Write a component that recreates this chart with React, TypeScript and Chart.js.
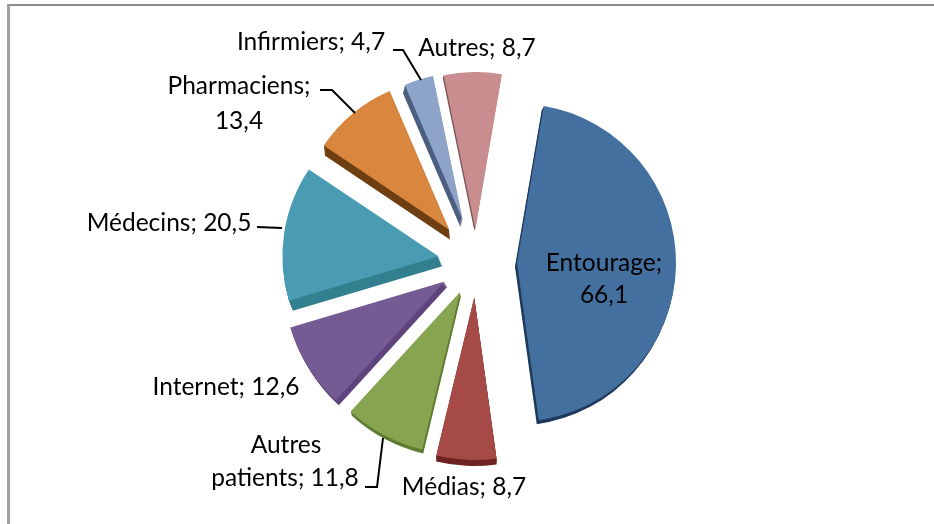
import React, { useEffect, useRef } from "react";
import { Chart, registerables } from "chart.js";

Chart.register(...registerables);

const categories = ["Entourage", "Médias", "Autres patients", "Internet", "Médecins", "Pharmaciens", "Infirmiers", "Autres"];
const values = [66.1, 8.7, 11.8, 12.6, 20.5, 13.4, 4.7, 8.7];
const topColors = ["#44709f", "#a54a47", "#87a550", "#755b94", "#4a9cb5", "#d9863e", "#8ea3c8", "#c98d8f"];
const sideColors = ["#1f3a5c", "#6e2422", "#5f7c33", "#5e437c", "#33808f", "#6e3f12", "#4d5f80", "#7d5557"];
const explode = [41, 35, 34, 37, 38, 42, 44, 33];
const radii = [159, 163, 162, 161, 156, 151, 147, 157];
const depthX = [-2, 0, 1, 3, 4, 1, -2, -1];
const depthY = [4, 6, 4, 5, 10, 10, 8, 2];

const FONT = "24.5px Lato";
const CX = 476;
const CY = 262;

type Lbl = { text: string; x: number; y: number; align: CanvasTextAlign };
const labelLayout: Lbl[] = [
  { text: "Entourage;", x: 604, y: 271, align: "center" },
  { text: "66,1", x: 604, y: 303, align: "center" },
  { text: "Médias; 8,7", x: 464, y: 495, align: "center" },
  { text: "Autres", x: 286, y: 453, align: "center" },
  { text: "patients; 11,8", x: 285, y: 486, align: "center" },
  { text: "Internet; 12,6", x: 226, y: 395, align: "center" },
  { text: "Médecins; 20,5", x: 169, y: 231, align: "center" },
  { text: "Pharmaciens;", x: 239, y: 94, align: "center" },
  { text: "13,4", x: 239, y: 129, align: "center" },
  { text: "Infirmiers; 4,7", x: 311, y: 50, align: "center" },
  { text: "Autres; 8,7", x: 477, y: 56, align: "center" },
];
const leaders: number[][][] = [
  [[393, 50], [403, 50], [421, 80]],
  [[320, 90], [332, 90], [355, 113]],
  [[257, 227], [282, 228]],
  [[365, 487], [377, 487], [383, 438]],
];

const arcOptions = (color: string) => ({
  backgroundColor: color, borderColor: color, borderWidth: 0, borderAlign: "center", borderDash: [], borderDashOffset: 0,
  borderJoinStyle: "round", borderRadius: 0, circular: true, offset: 0, spacing: 0, angle: undefined,
});

const pie3d = {
  id: "pie3d",
  afterDatasetsUpdate(chart: any) {
    const arcs = chart.getDatasetMeta(0).data;
    arcs.forEach((arc: any, i: number) => {
      const mid = (arc.startAngle + arc.endAngle) / 2;
      arc.x = CX + Math.cos(mid) * explode[i];
      arc.y = CY + Math.sin(mid) * explode[i];
      arc.outerRadius = radii[i];
      arc.innerRadius = 0;
    });
  },
  beforeDatasetsDraw(chart: any) {
    const ctx = chart.ctx;
    const arcs = chart.getDatasetMeta(0).data;
    arcs.forEach((arc: any, i: number) => {
      const saved = arc.options;
      arc.options = arcOptions(sideColors[i]);
      const steps = Math.max(Math.abs(depthX[i]), depthY[i]);
      for (let s = steps; s > 0; s--) {
        ctx.save();
        ctx.translate((depthX[i] * s) / steps, (depthY[i] * s) / steps);
        arc.draw(ctx);
        ctx.restore();
      }
      arc.options = saved;
    });
  },
  afterDatasetsDraw(chart: any) {
    const ctx = chart.ctx;
    ctx.save();
    ctx.strokeStyle = "#000";
    ctx.lineWidth = 2;
    leaders.forEach((pts) => {
      ctx.beginPath();
      pts.forEach(([x, y], k) => (k ? ctx.lineTo(x, y) : ctx.moveTo(x, y)));
      ctx.stroke();
    });
    ctx.font = FONT;
    ctx.fillStyle = "#000";
    ctx.textBaseline = "alphabetic";
    labelLayout.forEach((l) => {
      ctx.textAlign = l.align;
      ctx.fillText(l.text, l.x, l.y);
    });
    ctx.restore();
  },
};

export default function App() {
  const ref = useRef<HTMLCanvasElement>(null);
  useEffect(() => {
    const chart = new Chart(ref.current as HTMLCanvasElement, {
      type: "pie",
      data: {
        labels: categories,
        datasets: [{ data: values, backgroundColor: topColors, borderWidth: 0, rotation: 9.7 }],
      },
      options: {
        responsive: false,
        animation: false,
        events: [],
        plugins: { legend: { display: false }, tooltip: { enabled: false } },
      },
      plugins: [pie3d],
    } as any);
    return () => chart.destroy();
  }, []);
  return (
    <div style={{ position: "fixed", left: 0, top: 0, width: 934, height: 524, background: "#fff", overflow: "hidden" }}>
      <div style={{ position: "absolute", left: 7, top: 4, right: 0, bottom: 0, borderTop: "2px solid #8c8c8c", borderLeft: "3px solid #a0a0a0", boxSizing: "border-box" }} />
      <canvas ref={ref} width={934} height={524} style={{ position: "absolute", left: 0, top: 0 }} />
    </div>
  );
}
